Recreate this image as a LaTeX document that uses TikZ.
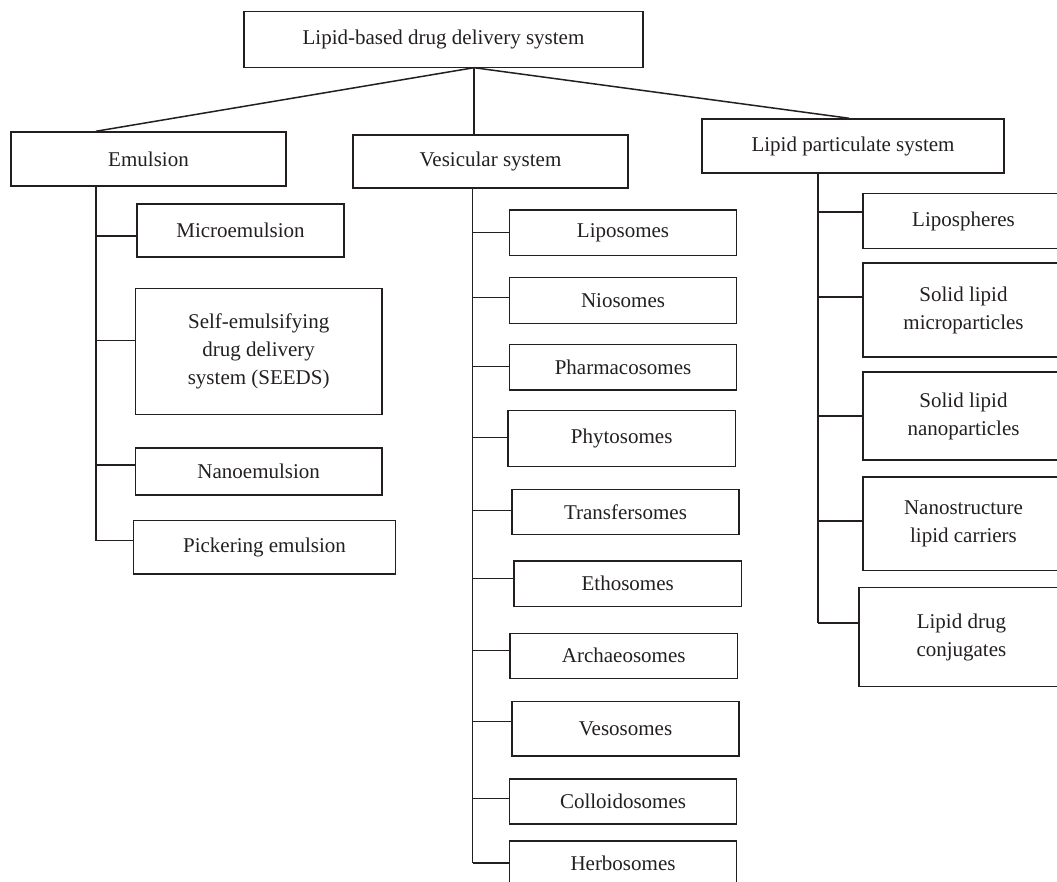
\documentclass[tikz,border=0pt]{standalone}
\usepackage{fontspec}
\setmainfont{Liberation Serif}
\definecolor{ink}{HTML}{231F20}
\begin{document}
\begin{tikzpicture}[x=1pt,y=-1pt,
  box/.style={draw=ink, line width=1.5pt, text=ink, align=center, inner sep=0pt,
    font=\fontsize{21}{28}\selectfont},
  link/.style={draw=ink, line width=1.5pt}]
\useasboundingbox (0,0) rectangle (1057,882);
% level 0 and 1
\node[box, minimum width=399pt, minimum height=56pt] (root) at (443.5,39.7) {Lipid-based drug delivery system};
\node[box, minimum width=275pt, minimum height=54pt] (emul) at (148.5,159) {Emulsion};
\node[box, minimum width=275pt, minimum height=53pt] (ves) at (490.5,161.5) {Vesicular system};
\node[box, minimum width=302pt, minimum height=54pt] (lp) at (853,146) {Lipid particulate system};
% emulsion children
\node[box, minimum width=207pt, minimum height=53pt] (mic) at (240.5,230.5) {Microemulsion};
\node[box, minimum width=246.7pt, minimum height=125.6pt] (seeds) at (258.7,351.5) {Self-emulsifying\\drug delivery\\system (SEEDS)};
\node[box, minimum width=246.7pt, minimum height=47pt] (nano) at (258.7,471.5) {Nanoemulsion};
\node[box, minimum width=261.6pt, minimum height=53.3pt] (pick) at (264.5,547.3) {Pickering emulsion};
% vesicular children
\node[box, minimum width=227.4pt, minimum height=45.3pt] (lipo) at (623,232.7) {Liposomes};
\node[box, minimum width=227.4pt, minimum height=45.6pt] (nio) at (623,300.5) {Niosomes};
\node[box, minimum width=227.4pt, minimum height=45.7pt] (pharm) at (623,367.2) {Pharmacosomes};
\node[box, minimum width=227.3pt, minimum height=56.4pt] (phyto) at (621.7,438.5) {Phytosomes};
\node[box, minimum width=227pt, minimum height=45.4pt] (trans) at (625.5,512) {Transfersomes};
\node[box, minimum width=227.3pt, minimum height=45.7pt] (etho) at (627.7,583.8) {Ethosomes};
\node[box, minimum width=227.3pt, minimum height=45pt] (arch) at (623.7,655.8) {Archaeosomes};
\node[box, minimum width=227pt, minimum height=54.3pt] (veso) at (625.5,728.8) {Vesosomes};
\node[box, minimum width=226.6pt, minimum height=45pt] (coll) at (623,801.5) {Colloidosomes};
\node[box, minimum width=226.6pt, minimum height=44pt] (herb) at (623,863) {Herbosomes};
% lipid particulate children
\node[box, minimum width=201pt, minimum height=55pt] (lipos) at (963.5,221.2) {Lipospheres};
\node[box, minimum width=201pt, minimum height=94pt] (slm) at (963.5,310) {Solid lipid\\microparticles};
\node[box, minimum width=201pt, minimum height=88pt] (sln) at (963.5,416) {Solid lipid\\nanoparticles};
\node[box, minimum width=201pt, minimum height=93.7pt] (nlc) at (963.5,523.8) {Nanostructure\\lipid carriers};
\node[box, minimum width=205.3pt, minimum height=99pt] (ldc) at (961.4,637) {Lipid drug\\conjugates};
% trunk x positions and apex
\coordinate (apex) at (474,67.7);
\coordinate (emv) at (96,0);
\coordinate (vev) at (472.5,0);
\coordinate (lpv) at (818,0);
\draw[link] (apex) -- (emv |- emul.north);
\draw[link] (apex) -- (apex |- ves.north);
\draw[link] (apex) -- ([xshift=-4pt]lp.north);
% branch connectors
\foreach \n/\s in {mic/-5.5, seeds/11.2, nano/6.5, pick/6.6}{
  \coordinate (c-\n) at ([yshift=\s pt]\n.west);
  \draw[link] (c-\n) -- (c-\n -| emv);
}
\foreach \n/\s in {lipo/0, nio/3.2, pharm/0.5, phyto/0.8, trans/1.3, etho/5.1, arch/5.1, veso/7.5, coll/3.2, herb/0}{
  \coordinate (c-\n) at ([yshift=\s pt]\n.west);
  \draw[link] (c-\n) -- (c-\n -| vev);
}
\foreach \n/\s in {lipos/9.2, slm/13, sln/0, nlc/3, ldc/14}{
  \coordinate (c-\n) at ([yshift=\s pt]\n.west);
  \draw[link] (c-\n) -- (c-\n -| lpv);
}
% trunks
\draw[link] (emv |- emul.south) -- (emv |- c-pick);
\draw[link] (vev |- ves.south) -- (vev |- c-herb);
\draw[link] (lpv |- lp.south) -- (lpv |- c-ldc);
\end{tikzpicture}
\end{document}
